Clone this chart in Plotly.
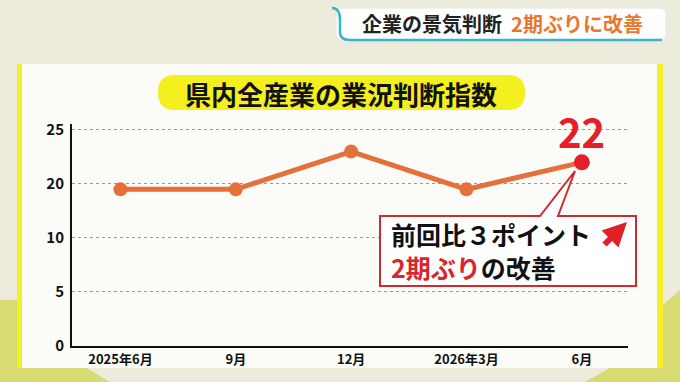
import numpy as np
import plotly.graph_objects as go

# ---- data ----
periods = ["2025年6月", "9月", "12月", "2026年3月", "6月"]
di_values = [19, 19, 23, 19, 22]
y_ticks = [0, 5, 10, 20, 25]
y_tick_labels = ["0", "5", "10", "20", "25"]

W, H = 680, 382
L, R, T, B = 72, 52, 124, 36
PW, PH = W - L - R, H - T - B

def px(x):
    return (x - L) / PW

def py(y):
    return (H - B - y) / PH

# broken (piecewise) value scale: equal spacing between listed ticks
def scale(v):
    return np.interp(v, y_ticks, np.arange(len(y_ticks)))

y_pos = [float(scale(v)) for v in di_values]
x_idx = list(range(len(periods)))

FONT = "Noto Sans CJK JP"
ORANGE = "#e4703a"
RED = "#e3202a"

fig = go.Figure()
fig.add_trace(go.Scatter(
    x=x_idx, y=y_pos, mode="lines+markers",
    line=dict(color=ORANGE, width=5),
    marker=dict(color=ORANGE, size=14),
    hoverinfo="skip", showlegend=False,
))
fig.add_trace(go.Scatter(
    x=[x_idx[-1]], y=[y_pos[-1]], mode="markers",
    marker=dict(color=RED, size=16),
    hoverinfo="skip", showlegend=False,
))

def rrect(x0, y0, x1, y1, r):
    rx = r / PW
    ry = r / PH
    X0, X1 = px(x0), px(x1)
    Y0, Y1 = py(y0), py(y1)
    return (f"M {X0+rx},{Y0} L {X1-rx},{Y0} Q {X1},{Y0} {X1},{Y0-ry} "
            f"L {X1},{Y1+ry} Q {X1},{Y1} {X1-rx},{Y1} L {X0+rx},{Y1} "
            f"Q {X0},{Y1} {X0},{Y1+ry} L {X0},{Y0-ry} Q {X0},{Y0} {X0+rx},{Y0} Z")

def poly(points):
    return "M " + " L ".join(f"{px(a)},{py(b)}" for a, b in points) + " Z"

shapes = []
shapes.append(dict(type="path", xref="paper", yref="paper", layer="below",
                   path=poly([(0, 300), (22, 300), (22, 330), (110, 382), (0, 382)]),
                   fillcolor="#d8da72", line=dict(width=0)))
shapes.append(dict(type="path", xref="paper", yref="paper", layer="below",
                   path=poly([(663, 305), (680, 290), (680, 382), (585, 382), (610, 368), (663, 340)]),
                   fillcolor="#d8da72", line=dict(width=0)))
shapes.append(dict(type="rect", xref="paper", yref="paper", layer="below",
                   x0=px(17), x1=px(663), y0=py(368), y1=py(64),
                   fillcolor="#f3f028", line=dict(width=0)))
shapes.append(dict(type="rect", xref="paper", yref="paper", layer="below",
                   x0=px(22), x1=px(657), y0=py(368), y1=py(64),
                   fillcolor="#fbfbf7", line=dict(width=0)))
shapes.append(dict(type="path", xref="paper", yref="paper", layer="below",
                   path=rrect(158, 75, 525, 110, 17),
                   fillcolor="#f4ef1f", line=dict(width=0)))
shapes.append(dict(type="path", xref="paper", yref="paper", layer="below",
                   path=rrect(336, 8, 666, 40, 6),
                   fillcolor="#ffffff", line=dict(color="#d9e8ea", width=1)))
shapes.append(dict(type="path", xref="paper", yref="paper", layer="below",
                   path=f"M {px(332)},{py(8)} Q {px(340)},{py(8)} {px(340)},{py(20)} "
                        f"L {px(340)},{py(32)} Q {px(340)},{py(40)} {px(350)},{py(40)} L {px(662)},{py(40)}",
                   line=dict(color="#3ab4c6", width=2.5)))
shapes.append(dict(type="path", xref="paper", yref="paper", layer="above",
                   path=poly([(380, 286), (380, 216), (540, 216), (575, 171),
                              (558, 216), (636, 216), (636, 286)]),
                   fillcolor="#ffffff", line=dict(color="#cf2a30", width=2)))

annotations = [
    dict(xref="paper", yref="paper", x=px(341), y=py(93), showarrow=False,
         xanchor="center", yanchor="middle",
         text="<b>県内全産業の業況判断指数</b>",
         font=dict(family=FONT, size=26, color="#111111")),
    dict(xref="paper", yref="paper", x=px(502), y=py(24), showarrow=False,
         xanchor="center", yanchor="middle",
         text="<b><span style='color:#222222'>企業の景気判断</span>  "
              "<span style='color:#e8772e'>2期ぶりに改善</span></b>",
         font=dict(family=FONT, size=20, color="#222222")),
    dict(x=x_idx[-1], y=y_pos[-1], xref="x", yref="y", showarrow=False,
         xanchor="center", yanchor="middle",
         yshift=31, text=f"<b>{di_values[-1]}</b>",
         font=dict(family=FONT, size=40, color=RED)),
    dict(xref="paper", yref="paper", x=px(389), y=py(250), xanchor="left",
         yanchor="middle", showarrow=False, align="left",
         text="<b>前回比３ポイント<br><span style='color:#d9252b'>2期ぶり</span>の改善</b>",
         font=dict(family=FONT, size=25, color="#111111")),
    dict(xref="paper", yref="paper", x=px(627), y=py(222), ax=-24, ay=24,
         showarrow=True, arrowhead=2, arrowsize=0.8, arrowwidth=6,
         arrowcolor="#e02027", text=""),
]

fig.update_layout(
    width=W, height=H, autosize=False,
    margin=dict(l=L, r=R, t=T, b=B),
    paper_bgcolor="#ecebdc", plot_bgcolor="rgba(0,0,0,0)",
    shapes=shapes, annotations=annotations,
    xaxis=dict(range=[-0.42, 4.4], tickvals=x_idx,
               ticktext=[f"<b>{p}</b>" for p in periods],
               showgrid=False, zeroline=False, showline=True,
               linecolor="#111111", linewidth=2, ticks="",
               tickfont=dict(family=FONT, size=13, color="#111111"),
               fixedrange=True),
    yaxis=dict(range=[0, 4.11], tickvals=[float(scale(v)) for v in y_ticks],
               ticktext=[f"<b>{t}</b>" for t in y_tick_labels],
               showgrid=True, gridcolor="#9a9a9a", griddash="dot", gridwidth=1,
               zeroline=False, showline=True, linecolor="#111111", linewidth=2,
               ticks="", ticklabelstandoff=3,
               tickfont=dict(family=FONT, size=15, color="#111111"),
               fixedrange=True),
)

fig.write_html("out.html")
